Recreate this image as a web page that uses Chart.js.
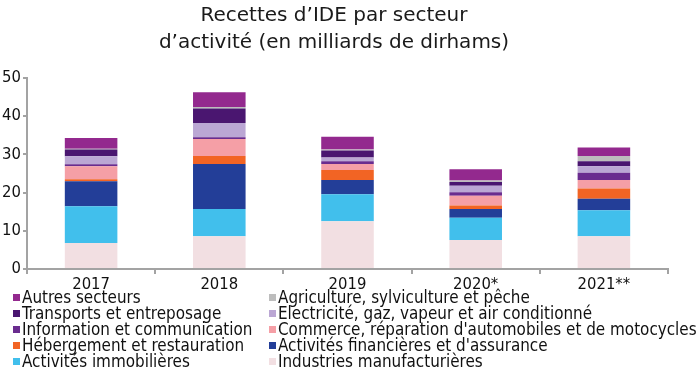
<!DOCTYPE html>
<html>
<head>
<meta charset="utf-8">
<script src="https://cdn.jsdelivr.net/npm/chart.js@4.4.1/dist/chart.umd.min.js"></script>
<style>
  body { margin: 0; background: #fff; }
  #wrap { position: relative; width: 700px; height: 370px; }
  #legend { position: absolute; left: 0; top: 289px; width: 700px;
    font-family: 'DejaVu Sans Condensed', 'DejaVu Sans', sans-serif; font-size: 16.9px; color: #111; }
  .item { position: absolute; white-space: nowrap; line-height: 16px; }
  .item span.box { position: absolute; top: 5px; width: 7px; height: 7px; }
</style>
</head>
<body>
<div id="wrap">
  <canvas id="ide" width="700" height="370"></canvas>
  <div id="legend"></div>
</div>
<script>
// années
var years = ["2017", "2018", "2019", "2020*", "2021**"];

// valeurs en milliards de dirhams, de bas en haut de la pile
var industries = [6.8, 8.6, 12.5, 7.6, 8.6];
var immobilieres = [9.6, 7.1, 7.1, 5.8, 6.8];
var financieres = [6.6, 11.8, 3.7, 2.3, 3.0];
var hebergement = [0.5, 2.1, 2.6, 0.9, 2.7];
var commerce = [3.4, 4.4, 1.6, 2.6, 2.2];
var information = [0.5, 0.5, 0.7, 0.9, 1.9];
var electricite = [2.1, 3.7, 1.0, 1.7, 1.7];
var transports = [1.8, 3.8, 1.8, 1.0, 1.3];
var agriculture = [0.2, 0.4, 0.3, 0.4, 1.4];
var autres = [2.8, 3.9, 3.3, 2.9, 2.2];

var yTicks = [0, 10, 20, 30, 40, 50];

var series = [
  { label: "Industries manufacturières", data: industries, color: "#f2dfe2" },
  { label: "Activités immobilières", data: immobilieres, color: "#41bfec" },
  { label: "Activités financières et d'assurance", data: financieres, color: "#233e98" },
  { label: "Hébergement et restauration", data: hebergement, color: "#f26424" },
  { label: "Commerce, réparation d'automobiles et de motocycles", data: commerce, color: "#f59fa6" },
  { label: "Information et communication", data: information, color: "#6a2c8f" },
  { label: "Electricité, gaz, vapeur et air conditionné", data: electricite, color: "#bba7d4" },
  { label: "Transports et entreposage", data: transports, color: "#4a1670" },
  { label: "Agriculture, sylviculture et pêche", data: agriculture, color: "#bdbdbd" },
  { label: "Autres secteurs", data: autres, color: "#93298e" }
];

var axisColor = "#a3a3a3";
var tickFont = { family: "'DejaVu Sans Condensed', 'DejaVu Sans', sans-serif", size: 16.5 };

var ctx = document.getElementById("ide").getContext("2d");
var chart = new Chart(ctx, {
  type: "bar",
  data: {
    labels: years,
    datasets: series.map(function(s) {
      return {
        label: s.label,
        data: s.data,
        backgroundColor: s.color,
        borderWidth: 0,
        categoryPercentage: 1,
        barPercentage: 0.41
      };
    })
  },
  options: {
    responsive: false,
    animation: false,
    layout: { padding: { left: 0, right: 32, top: 0, bottom: 77 } },
    plugins: {
      legend: { display: false },
      tooltip: { enabled: false },
      title: {
        display: true,
        text: ["Recettes d’IDE par secteur", "d’activité (en milliards de dirhams)"],
        color: "#1a1a1a",
        font: { family: "'DejaVu Sans', sans-serif", size: 20, weight: "normal", lineHeight: 1.35 },
        padding: { top: 2, bottom: 22 }
      }
    },
    scales: {
      x: {
        stacked: true,
        grid: { display: true, drawOnChartArea: false, offset: true, tickLength: 5, color: axisColor, lineWidth: 2 },
        border: { color: axisColor, width: 2 },
        ticks: { color: "#111", font: tickFont, padding: 1 },
        afterFit: function(scale) { scale.height = 24; }
      },
      y: {
        stacked: true,
        min: 0,
        max: 50,
        afterBuildTicks: function(scale) {
          scale.ticks = yTicks.map(function(v) { return { value: v }; });
        },
        grid: { display: true, drawOnChartArea: false, tickLength: 4, color: axisColor, lineWidth: 2 },
        border: { color: axisColor, width: 2 },
        ticks: { color: "#111", font: tickFont, padding: 2 },
        afterFit: function(scale) { scale.width = 27; }
      }
    }
  }
});

// légende en deux colonnes, ordre inverse de la pile
var legend = document.getElementById("legend");
var ordered = chart.data.datasets.slice().reverse();
ordered.forEach(function(ds, i) {
  var col = i % 2, row = Math.floor(i / 2);
  var item = document.createElement("div");
  item.className = "item";
  item.style.left = (col === 0 ? 22 : 278) + "px";
  item.style.top = (row * 16) + "px";
  var box = document.createElement("span");
  box.className = "box";
  box.style.left = "-9px";
  box.style.background = ds.backgroundColor;
  item.appendChild(box);
  item.appendChild(document.createTextNode(ds.label));
  legend.appendChild(item);
});
</script>
</body>
</html>
